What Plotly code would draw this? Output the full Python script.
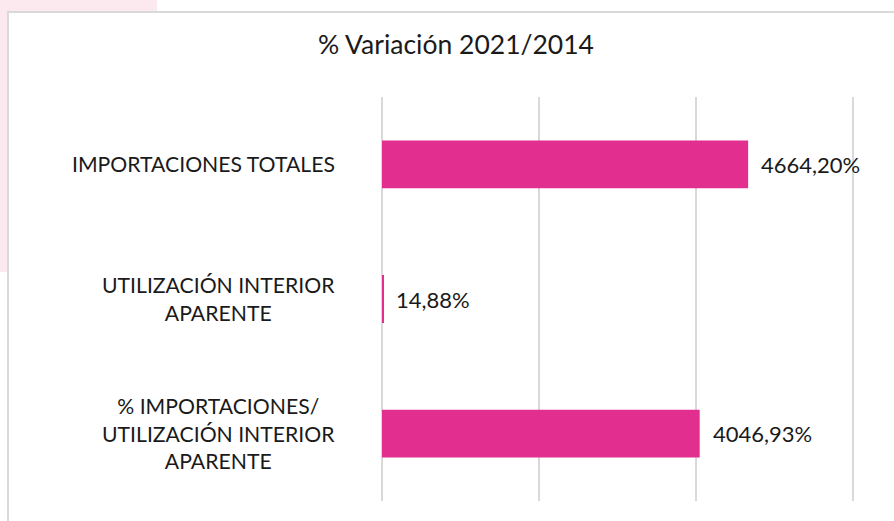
import plotly.graph_objects as go

categories = [
    "IMPORTACIONES TOTALES",
    "UTILIZACIÓN INTERIOR<br>APARENTE",
    "% IMPORTACIONES/<br>UTILIZACIÓN INTERIOR<br>APARENTE",
]
values = [4664.20, 14.88, 4046.93]
title_text = "% Variación 2021/2014"

W, H = 894, 521
OX, OY = 0, 0            # body margin removed by post_script
L, R = 372, 20
T = 97 - OY
B = H - (501 - OY)
pw, ph = W - L - R, H - T - B
upp = 6000 / 471         # data units per pixel
x0 = -(382 - OX - L) * upp
x1 = x0 + pw * upp

def px_x(px):
    return (px - OX - L) / pw

def px_y(py):
    return (H - B - (py - OY)) / ph

FONT = "Lato, 'Open Sans', sans-serif"
TXT = "#1a1a1a"

fig = go.Figure()
fig.add_trace(go.Bar(
    x=values, y=categories, orientation="h",
    marker=dict(color="#E22E8F", line=dict(width=0)),
    width=0.355, hoverinfo="skip",
))

annotations = []
for c, v in zip(categories, values):
    annotations.append(dict(
        x=v, y=c, xref="x", yref="y", xanchor="left", yanchor="middle",
        xshift=11, showarrow=False,
        text=f"{v:.2f}".replace(".", ",") + "%",
        font=dict(family=FONT, size=22, color=TXT),
    ))
    annotations.append(dict(
        x=px_x(337), y=c, xref="paper", yref="y",
        xanchor="right", yanchor="middle", align="center",
        showarrow=False, text=c,
        font=dict(family=FONT, size=21.2, color=TXT),
    ))

shapes = [
    dict(type="rect", xref="paper", yref="paper", layer="below",
         x0=px_x(0), x1=px_x(157), y0=px_y(272), y1=px_y(0),
         fillcolor="#fce8ef", line=dict(width=0)),
    dict(type="rect", xref="paper", yref="paper", layer="below",
         x0=px_x(8), x1=px_x(910), y0=px_y(540), y1=px_y(12),
         fillcolor="white", line=dict(color="#d9d9d9", width=2)),
]

fig.update_layout(
    width=W, height=H,
    margin=dict(l=L, r=R, t=T, b=B, autoexpand=False),
    paper_bgcolor="white", plot_bgcolor="rgba(0,0,0,0)",
    showlegend=False,
    title=dict(text=title_text, x=(456 - OX) / W, xanchor="center",
               y=1 - (45 - OY) / H, yanchor="middle",
               font=dict(family=FONT, size=26.5, color=TXT)),
    xaxis=dict(range=[x0, x1], tick0=0, dtick=2000, showticklabels=False,
               showgrid=True, gridcolor="#d9d9d9", gridwidth=2,
               zeroline=True, zerolinecolor="#d9d9d9", zerolinewidth=2,
               showline=False, fixedrange=True),
    yaxis=dict(categoryorder="array", categoryarray=categories,
               autorange="reversed", showticklabels=False,
               showgrid=False, zeroline=False, showline=False,
               fixedrange=True),
    annotations=annotations,
    shapes=shapes,
)

fig.write_html("out.html",
               config={"displayModeBar": False},
               post_script="document.body.style.margin='0';")
